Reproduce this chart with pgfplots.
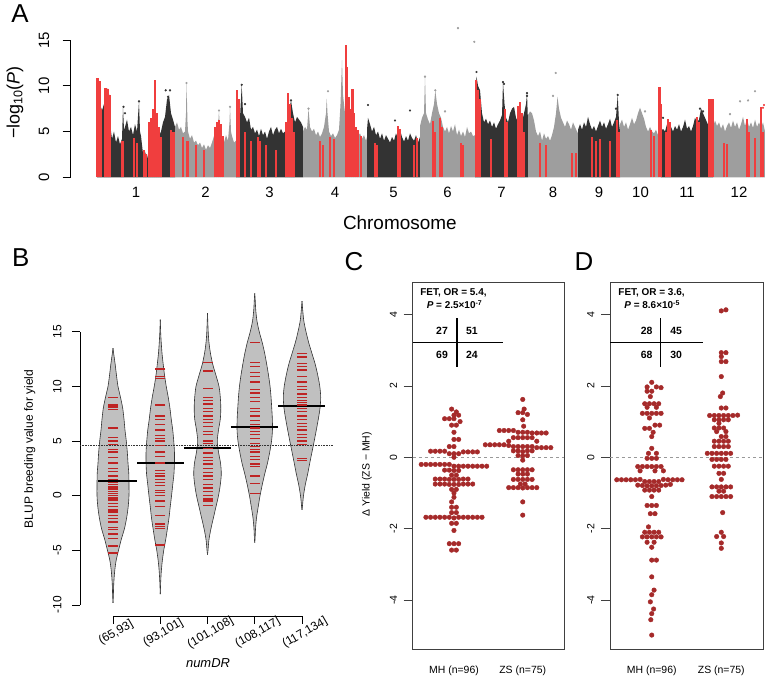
\documentclass[border=0pt]{standalone}
\usepackage{fontspec}
\setmainfont{Liberation Sans}
\usepackage{pgfplots}
\pgfplotsset{compat=1.18}
\usepackage{pgfplotstable}

\definecolor{mred}{RGB}{240,62,62}
\definecolor{mblack}{RGB}{51,51,51}
\definecolor{mgrey}{RGB}{158,158,158}
\definecolor{dotred}{RGB}{165,42,42}
\definecolor{rugred}{RGB}{190,35,35}
\definecolor{violin}{RGB}{192,192,192}

\newcommand\fs[1]{\fontsize{#1}{#1}\selectfont}

\pgfplotsset{every axis/.append style={
  /pgf/number format/assume math mode=true,
  scale only axis, anchor=south west, clip=false, tick align=outside}}

% violin outlines: y, half width in px
\pgfplotstableread[row sep=\\]{
y w\\ -9.8 0\\ -9 0.4\\ -8 0.8\\ -7 1.6\\ -6 3\\ -5 5.5\\ -4 8.3\\ -3 11.5\\ -2 13.7\\ -1 15.2\\ 0 16\\ 1 16\\ 2 15.8\\ 3 15\\ 4 14.3\\ 5 13.3\\ 6 12\\ 7 11\\ 8 9.7\\ 9 7.5\\ 10 5\\ 11 3.5\\ 12 2.2\\ 13 0.7\\ 13.5 0\\
}\vA
\pgfplotstableread[row sep=\\]{
y w\\ -9 0\\ -8 0.4\\ -7 1\\ -6 2\\ -5 3.5\\ -4 5.5\\ -3 7.2\\ -2 8.8\\ -1 10\\ 0 11.3\\ 1 12.5\\ 2 13.7\\ 3 14.2\\ 4 14.2\\ 5 13.5\\ 6 12.5\\ 7 11\\ 8 9.7\\ 9 8\\ 10 6\\ 11 4.3\\ 12 3\\ 13 1.8\\ 14 1\\ 15 0.4\\ 16.1 0\\
}\vB
\pgfplotstableread[row sep=\\]{
y w\\ -5.4 0\\ -5 0.5\\ -4 1.5\\ -3 3.5\\ -2 6\\ -1 8.5\\ 0 11\\ 1 12.8\\ 2 13.8\\ 3 13\\ 4 11\\ 5 9.8\\ 6 11\\ 7 12.8\\ 8 13.3\\ 9 12.8\\ 10 11.5\\ 11 8.5\\ 12 5.3\\ 13 3\\ 14 1.5\\ 15 0.7\\ 16.7 0\\
}\vC
\pgfplotstableread[row sep=\\]{
y w\\ -4.3 0\\ -4 0.3\\ -3 0.8\\ -2 1.8\\ -1 3.5\\ 0 5.3\\ 1 7.5\\ 2 10\\ 3 12.8\\ 4 15\\ 5 16.8\\ 6 17.7\\ 7 17.6\\ 8 17\\ 9 16.3\\ 10 15.3\\ 11 13.8\\ 12 12\\ 13 10\\ 14 7.5\\ 15 4.5\\ 16 2.2\\ 17 1\\ 18 0.4\\ 18.5 0\\
}\vD
\pgfplotstableread[row sep=\\]{
y w\\ -1.3 0\\ -1 0.4\\ 0 1.5\\ 1 3.3\\ 2 5.7\\ 3 7.8\\ 4 10\\ 5 12.2\\ 6 14.3\\ 7 16.3\\ 8 18\\ 9 18.7\\ 10 17.8\\ 11 15.8\\ 12 13.3\\ 13 10\\ 14 6.7\\ 15 4\\ 16 1.8\\ 17 0.7\\ 17.8 0\\
}\vE

\begin{document}
\begin{tikzpicture}[x=1bp,y=1bp]
\useasboundingbox (0,0) rectangle (765,676);

%% ---------------- A: Manhattan plot ----------------
\begin{axis}[at={(70.7bp,495.95bp)}, width=694.3bp, height=153.75bp,
  xmin=70.7, xmax=765, ymin=-0.3, ymax=16.5,
  axis x line*=bottom, axis y line*=left, axis line style={draw=none},
  ytick={0,5,10,15},
  xtick={136,205.5,269.5,335,393.5,447.5,501.5,553,599,640.5,687,739},
  xticklabels={1,2,3,4,5,6,7,8,9,10,11,12},
  xtick style={draw=none}, ytick style={black,line width=0.8bp},
  major tick length=8bp,
  tick label style={font=\fs{15}},
  yticklabel style={rotate=90,anchor=south}, yticklabel shift=10bp,
  xticklabel shift=-4bp,
  xlabel={Chromosome}, ylabel={−log\textsubscript{10}(\textit{P})},
  xlabel style={font=\fs{19},at={(axis description cs:0.474,-0.279)},anchor=center},
  ylabel style={font=\fs{18},at={(axis description cs:-0.0802,0.504)},anchor=center}]
\draw[line width=0.8bp] (axis cs:70.7,0) -- (axis cs:70.7,15);
% chromosome 1
\addplot[fill=mblack,draw=none] coordinates {(97,0)(97,10.5)(99,9.6)(100,8)(102,7.3)(104,8.0)(106,9.5)(108,9.7)(110,8.5)(111,5)(112,4.2)(114,5.0)(116,3.8)(118,4.5)(120,3.6)(122,4.2)(123,7.7)(124,5.2)(125,5.5)(127,6.3)(129,5.0)(131,5.5)(133,4.6)(135,5.8)(137,5.0)(139,8.3)(140,5)(141,4.5)(143,2.6)(145,2.8)(147,2.0)(149,3.0)(151,3.5)(153,3.0)(155,4.0)(157,3.5)(159,4.5)(161,5.0)(163,6.0)(165,6.6)(167,8.5)(169,9.0)(171,7.0)(173,6.3)(175,5.5)(175,0)};
% chromosome 2
\addplot[fill=mgrey,draw=none] coordinates {(175,0)(175,5.5)(177,6.0)(179,5.2)(181,5.5)(183,4.8)(185,5.0)(186,7)(186.5,10.3)(187.5,6)(188,5.0)(190,4.2)(192,4.6)(194,3.8)(196,4.0)(198,3.5)(200,3.8)(202,3.2)(204,3.6)(206,3.0)(208,3.5)(210,3.2)(212,3.8)(214,4.5)(216,5.0)(218,5.5)(219,7.3)(220,4.8)(222,4.2)(224,3.8)(226,4.6)(228,4.0)(229.5,6)(230,7.7)(231,5)(232,4.5)(234,3.8)(236,4.0)(236,0)};
% chromosome 3
\addplot[fill=mblack,draw=none] coordinates {(236,0)(236,7.5)(238,8.0)(240,6.5)(241.7,10.1)(243,7.0)(245,6.6)(247,6.0)(249,6.5)(251,5.2)(253,5.5)(255,4.8)(257,5.2)(259,4.5)(261,5.3)(263,4.6)(265,5.0)(267,4.2)(269,5.0)(271,5.5)(273,4.6)(275,5.2)(277,5.5)(279,4.8)(281,5.3)(283,4.8)(285,5.0)(287,6.0)(289,7.2)(291,8.4)(293,7.0)(295,6.0)(297,6.6)(299,6.3)(301,6.0)(303,5.5)(303,0)};
% chromosome 4
\addplot[fill=mgrey,draw=none] coordinates {(303,0)(303,5.0)(305,5.5)(307,5.2)(308.5,7.5)(310,5.5)(312,5.0)(314,5.3)(316,4.6)(318,5.0)(320,4.4)(322,4.8)(324,5.5)(326,7)(326.7,8.6)(327.5,7)(329,5.0)(331,4.5)(333,4.8)(335,4.3)(337,4.6)(339,5.2)(340.5,8)(342,12.8)(343,9)(344,8.0)(346,6.0)(348,5.5)(350,5.0)(352,5.0)(354,4.6)(356,4.0)(358,4.5)(360,4.8)(362,4.2)(364,4.6)(366,4.0)(367,4.4)(367,0)};
% chromosome 5
\addplot[fill=mblack,draw=none] coordinates {(367,0)(367,5.2)(368,6.5)(370,5.8)(372,5.0)(374,5.5)(376,4.6)(378,5.0)(380,4.2)(382,4.8)(384,4.0)(386,4.6)(388,4.2)(390,3.8)(392,4.4)(394,4.0)(396,4.8)(398,4.2)(400,5.2)(402,4.4)(404,3.9)(406,4.5)(408,4.0)(410,4.8)(412,4.3)(414,4.0)(416,4.6)(418,3.8)(420,4.4)(420,0)};
% chromosome 6
\addplot[fill=mgrey,draw=none] coordinates {(420,0)(420,5.6)(422,6.5)(424,7.0)(425,11.0)(426,7.0)(428,6.3)(430,5.8)(432,7.0)(434,8.0)(435.3,9.5)(437,8.0)(439,7.0)(441,6.5)(443,5.5)(445,5.0)(447,5.5)(449,4.8)(451,5.6)(453,5.0)(455,5.8)(457,4.6)(459,5.2)(461,4.5)(463,5.0)(465,4.4)(467,5.5)(469,4.8)(471,5.0)(473,4.5)(475,4.6)(475,0)};
% chromosome 7
\addplot[fill=mblack,draw=none] coordinates {(475,0)(475,9.0)(476.5,11.0)(478,10.0)(480,9.5)(482,7.0)(484,6.0)(486,6.4)(488,5.8)(490,6.2)(492,5.5)(494,6.0)(496,5.3)(498,5.8)(500,6.2)(502,6.8)(503,10.4)(504.5,8.0)(506,6.5)(508,6.0)(510,7.0)(512,7.5)(514,7.7)(516,6.5)(518,6.0)(520,5.5)(522,6.0)(524,7.0)(526,8)(527,9.2)(528,6.0)(528,0)};
% chromosome 8
\addplot[fill=mgrey,draw=none] coordinates {(528,0)(528,6.8)(530,7.2)(532,7.0)(534,6.2)(536,5.0)(538,4.5)(540,5.0)(542,4.0)(544,4.8)(546,4.2)(548,4.5)(550,4.0)(552,4.6)(554,5.5)(556,7.0)(557.5,8.8)(559,7.5)(561,6.5)(563,6.0)(565,5.5)(567,6.2)(569,5.8)(571,5.2)(573,6.0)(575,5.5)(577,5.0)(578,4.8)(578,0)};
% chromosome 9
\addplot[fill=mblack,draw=none] coordinates {(578,0)(578,5.2)(580,5.8)(582,5.2)(584,6.0)(586,5.5)(588,6.6)(590,5.8)(592,5.2)(594,5.6)(596,5.0)(598,5.6)(600,6.2)(602,5.5)(604,6.0)(606,5.3)(608,5.8)(610,6.4)(612,5.5)(614,6.0)(616,6.6)(617.7,9.0)(619,6.0)(620,5.0)(620,0)};
% chromosome 10
\addplot[fill=mgrey,draw=none] coordinates {(620,0)(620,5.8)(622,6.3)(624,5.5)(626,6.0)(628,5.2)(630,5.8)(632,6.5)(634,5.8)(636,6.2)(638,7.0)(640,7.6)(642,7.0)(644,6.4)(646,5.5)(648,5.0)(650,5.5)(652,5.0)(654,4.8)(656,5.2)(658,4.6)(660,4.5)(661,4.4)(661,0)};
% chromosome 11
\addplot[fill=mblack,draw=none] coordinates {(661,0)(661,5.0)(663,5.3)(665,5.0)(667,5.8)(669,5.2)(671,5.5)(673,5.0)(675,5.6)(677,5.2)(679,5.8)(681,5.0)(683,5.5)(685,6.3)(687,5.3)(689,5.6)(691,5.0)(693,5.6)(695,6.5)(697,6.0)(699,6.3)(701,7.5)(703,7.0)(705,6.5)(707,6.0)(709,5.5)(711,5.0)(713,5.0)(713,0)};
% chromosome 12
\addplot[fill=mgrey,draw=none] coordinates {(713,0)(713,5.5)(715,6.2)(717,5.6)(719,6.0)(721,5.3)(723,5.8)(725,5.0)(727,5.6)(729,6.0)(731,5.4)(733,6.2)(735,5.5)(737,6.0)(739,5.2)(741,5.8)(743,6.6)(745,5.6)(747,6.4)(749,5.5)(751,6.0)(753,5.4)(755,6.3)(757,5.5)(759,6.0)(761,5.4)(763,6.0)(765,5.0)(765,0)};
% highlighted (red) markers
\addplot[ycomb,draw=mred,line width=2.4bp] coordinates {
(97.5,10.9)(99.3,10.5)(101,7.5)(105.5,9.8)(107.5,9.6)(109.5,9.0)(122.5,4.0)(134,4.3)(137,3.8)(144,3.0)(146,2.5)(149,6.0)(151,6.5)(153,7.5)(155,10.6)(157,7.0)(159,5.5)(161,4.4)(171,5.2)(173.5,5.0)
(183,4.4)(187.5,4.0)(196,3.5)(204,3.0)(215,5.5)(217,6.0)(219,6.3)(221,5.8)(223,4.5)
(237,9.5)(239,8.5)(245,5.0)(251,4.0)(258,4.4)(260,4.0)(266,3.5)(276,3.0)(286,6.0)(288,9.2)(290,8.0)(292,6.5)(294,5.0)
(320,4.0)(323,3.5)(330,4.4)(334,4.2)(345.7,14.5)(347,12)(348.5,8.8)(350,7.5)(352.3,9.7)(354,7)(356,5.5)(358,5.2)(361,4.5)
(375,3.8)(377,3.5)(398,5.6)(400,5.3)(414,3.5)(416.7,4.3)
(433,6.2)(434.5,5.0)(440,6.5)(442,5.5)(461,3.8)(463,3.5)
(476,10.6)(478,9.5)(480,8.5)(491,4.2)(505,7.5)(507,6.0)(518,7.8)(520,8.2)(522,7.0)(524,5.0)
(540,3.8)(546,3.5)(572,2.6)(576,2.6)
(592,4.4)(596,4.0)(600,4.2)(610,4.0)(617,6.3)(619,5.0)
(651,5.2)(654,4.5)(659.5,9.9)(661,8)
(666,5.0)(668,6.4)(670,6.0)(697,6.6)(699,6.0)(709,8.6)(711,8.6)(713,8.5)
(724,3.8)(727,3.6)(747,6.4)(749,5.0)(755,4.3)(761,7.7)(763,5)};
% scattered single markers
\addplot[only marks,mark=*,mark size=0.9bp,mblack] coordinates {(123.5,7.7)(139,8.3)(125,7.0)(165.7,9.5)(170,9.5)(168,8.8)(241.7,10.1)(245,8.0)(291,8.4)(368,7.9)(410,7.3)(395,6.2)(476.5,11.5)(503,10.4)(504,10.2)(527,9.2)(527,8.9)(617.7,9.0)(616,7.5)(700,7.5)(703,7.2)(663,6.5)};
\addplot[only marks,mark=*,mark size=0.9bp,mgrey] coordinates {(458,16.3)(474.3,14.8)(555.7,11.4)(425,11.0)(328,9.4)(308.5,7.5)(230,7.7)(219,7.3)(186.5,10.3)(435.3,9.5)(755,9.4)(748,8.4)(740,8.3)(730,6.9)(645,7.2)(553,8.9)(445,7.2)};
\addplot[only marks,mark=*,mark size=0.9bp,mred] coordinates {(764,7.9)(763,7.6)};
\end{axis}

%% ---------------- B: violin plot ----------------
\begin{axis}[at={(80bp,60.1bp)}, width=253bp, height=327.9bp,
  xmin=0.3016, xmax=5.656, ymin=-11, ymax=19,
  axis x line*=bottom, axis y line*=left, axis line style={draw=none},
  xtick={1,2,3,4,5}, ytick={-10,-5,0,5,10,15},
  xticklabels={{(65,93]},{(93,101]},{(101,108]},{(108,117]},{(117,134]}},
  tick style={black,line width=0.7bp}, major tick length=8bp,
  tick label style={font=\fs{12}},
  yticklabel style={rotate=90,anchor=south}, yticklabel shift=7bp,
  xticklabel style={xshift=3bp,rotate=30,anchor=center}, xticklabel shift=9bp,
  xlabel={\textit{numDR}}, ylabel={BLUP breeding value for yield},
  xlabel style={font=\fs{13},at={(axis description cs:0.506,-0.1436)},anchor=center},
  ylabel style={font=\fs{12},at={(axis description cs:-0.198,0.509)},anchor=center}]
\draw[line width=0.7bp] (axis cs:1,-11) -- (axis cs:5,-11);
\draw[line width=0.7bp] (axis cs:0.3016,-10) -- (axis cs:0.3016,15);
% bean fills (two halves each)
\addplot[fill=violin,draw=none,smooth] table[x expr=1+\thisrow{w}/47.25,y=y]{\vA};
\addplot[fill=violin,draw=none,smooth] table[x expr=1-\thisrow{w}/47.25,y=y]{\vA};
\addplot[fill=violin,draw=none,smooth] table[x expr=2+\thisrow{w}/47.25,y=y]{\vB};
\addplot[fill=violin,draw=none,smooth] table[x expr=2-\thisrow{w}/47.25,y=y]{\vB};
\addplot[fill=violin,draw=none,smooth] table[x expr=3+\thisrow{w}/47.25,y=y]{\vC};
\addplot[fill=violin,draw=none,smooth] table[x expr=3-\thisrow{w}/47.25,y=y]{\vC};
\addplot[fill=violin,draw=none,smooth] table[x expr=4+\thisrow{w}/47.25,y=y]{\vD};
\addplot[fill=violin,draw=none,smooth] table[x expr=4-\thisrow{w}/47.25,y=y]{\vD};
\addplot[fill=violin,draw=none,smooth] table[x expr=5+\thisrow{w}/47.25,y=y]{\vE};
\addplot[fill=violin,draw=none,smooth] table[x expr=5-\thisrow{w}/47.25,y=y]{\vE};
\addplot[violin,line width=1.2bp] coordinates {(1,-9)(1,13)};
\addplot[violin,line width=1.2bp] coordinates {(2,-8)(2,15)};
\addplot[violin,line width=1.2bp] coordinates {(3,-5)(3,15)};
\addplot[violin,line width=1.2bp] coordinates {(4,-3)(4,17)};
\addplot[violin,line width=1.2bp] coordinates {(5,-0.5)(5,17)};
% bean outlines
\addplot[black!80,line width=0.6bp,smooth] table[x expr=1+\thisrow{w}/47.25,y=y]{\vA};
\addplot[black!80,line width=0.6bp,smooth] table[x expr=1-\thisrow{w}/47.25,y=y]{\vA};
\addplot[black!80,line width=0.6bp,smooth] table[x expr=2+\thisrow{w}/47.25,y=y]{\vB};
\addplot[black!80,line width=0.6bp,smooth] table[x expr=2-\thisrow{w}/47.25,y=y]{\vB};
\addplot[black!80,line width=0.6bp,smooth] table[x expr=3+\thisrow{w}/47.25,y=y]{\vC};
\addplot[black!80,line width=0.6bp,smooth] table[x expr=3-\thisrow{w}/47.25,y=y]{\vC};
\addplot[black!80,line width=0.6bp,smooth] table[x expr=4+\thisrow{w}/47.25,y=y]{\vD};
\addplot[black!80,line width=0.6bp,smooth] table[x expr=4-\thisrow{w}/47.25,y=y]{\vD};
\addplot[black!80,line width=0.6bp,smooth] table[x expr=5+\thisrow{w}/47.25,y=y]{\vE};
\addplot[black!80,line width=0.6bp,smooth] table[x expr=5-\thisrow{w}/47.25,y=y]{\vE};
% overall mean
\addplot[black!80,densely dotted,line width=0.6bp] coordinates {(0.3016,4.57)(5.656,4.57)};
% individual lines (rug)
\addplot[rugred,only marks,mark=-,mark size=5bp,mark options={draw=rugred,line width=1.3bp}] coordinates {
(1,9.0)(1,8.3)(1,8.1)(1,7.9)(1,6.2)(1,5.3)(1,5.0)(1,4.7)(1,4.2)(1,4.0)(1,3.5)(1,3.0)(1,2.5)(1,2.2)(1,1.8)(1,1.5)(1,1.2)(1,1.0)(1,0.8)(1,0.6)(1,0.4)(1,0.2)(1,0.0)(1,-0.2)(1,-0.4)(1,-0.7)(1,-1.0)(1,-1.3)(1,-1.5)(1,-1.8)(1,-2.1)(1,-2.4)(1,-2.9)(1,-3.1)(1,-3.5)(1,-3.9)(1,-4.6)(1,-5.2)(1,-5.3)
(2,11.6)(2,10.9)(2,10.7)(2,8.3)(2,7.3)(2,7.0)(2,6.5)(2,6.0)(2,5.5)(2,5.2)(2,5.0)(2,4.6)(2,4.0)(2,3.6)(2,3.0)(2,2.3)(2,2.0)(2,1.8)(2,1.5)(2,1.2)(2,0.9)(2,0.5)(2,0.3)(2,0.0)(2,-0.5)(2,-1.0)(2,-1.8)(2,-2.6)(2,-2.8)(2,-3.0)(2,-4.5)
(3,12.2)(3,11.4)(3,9.8)(3,9.0)(3,8.7)(3,8.4)(3,8.0)(3,7.7)(3,7.3)(3,7.0)(3,6.7)(3,6.3)(3,5.9)(3,5.6)(3,5.0)(3,4.8)(3,4.3)(3,3.9)(3,3.5)(3,3.2)(3,2.9)(3,2.5)(3,2.1)(3,1.8)(3,1.5)(3,1.0)(3,0.7)(3,0.4)(3,0.0)(3,-0.3)(3,-0.5)(3,-0.9)
(4,14.0)(4,12.2)(4,11.8)(4,11.3)(4,10.9)(4,10.4)(4,9.7)(4,9.4)(4,9.0)(4,8.6)(4,8.0)(4,7.7)(4,7.3)(4,6.9)(4,6.5)(4,6.2)(4,5.9)(4,5.6)(4,5.2)(4,4.8)(4,4.5)(4,4.2)(4,4.0)(4,3.6)(4,3.3)(4,2.9)(4,2.7)(4,1.8)(4,1.1)(4,0.2)
(5,13.0)(5,12.7)(5,12.1)(5,11.8)(5,11.5)(5,10.9)(5,10.4)(5,10.0)(5,9.7)(5,9.3)(5,9.0)(5,8.7)(5,8.5)(5,8.3)(5,8.0)(5,7.7)(5,7.3)(5,7.0)(5,6.6)(5,6.3)(5,6.0)(5,5.6)(5,5.3)(5,5.0)(5,4.7)(5,3.4)(5,3.2)};
% group means
\addplot[black,line width=1.8bp] coordinates {(0.683,1.37)(1.508,1.37)};
\addplot[black,line width=1.8bp] coordinates {(1.508,3.02)(2.503,3.02)};
\addplot[black,line width=1.8bp] coordinates {(2.503,4.36)(3.497,4.36)};
\addplot[black,line width=1.8bp] coordinates {(3.497,6.25)(4.492,6.25)};
\addplot[black,line width=1.8bp] coordinates {(4.492,8.17)(5.487,8.17)};
\end{axis}

%% ---------------- C: beeswarm ----------------
\begin{axis}[at={(412.7bp,27bp)}, width=151.3bp, height=366.3bp,
  xmin=0.4, xmax=2.6, ymin=-5.37, ymax=4.89,
  axis line style={black!75,line width=0.7bp},
  ytick pos=left, ytick={-4,-2,0,2,4}, xtick={1,2},
  xticklabels={MH (n=96),ZS (n=75)},
  xtick style={draw=none}, ytick style={black!75,line width=0.7bp},
  major tick length=9bp,
  tick label style={font=\fs{10.5}},
  yticklabel style={rotate=90,anchor=south}, yticklabel shift=3bp,
  xticklabel shift=4bp,
  ylabel={Δ Yield (ZS − MH)},
  ylabel style={font=\fs{10.5},at={(axis description cs:-0.302,0.477)},anchor=center}]
\addplot[black!40,dashed,line width=0.7bp] coordinates {(0.4,0)(2.6,0)};
\addplot[only marks,mark=*,mark size=2.3bp,dotred,mark options={draw=dotred,fill=dotred}] table[x expr=1+\thisrow{k}*0.068,y=v,row sep=\\]{
k v\\ -0.5 1.35\\ 0.5 1.27\\ 0 1.18\\ 1 1.18\\ -2 1.08\\ -1 1.08\\ 0 1.08\\ 1.3 1.0\\ -0.5 0.9\\ 0.5 0.9\\ 0 0.7\\ 0 0.5\\ 1 0.5\\ -1 0.3\\ 0 0.3\\
-5 0.17\\ -4 0.17\\ -3 0.17\\ -2 0.17\\ -1 0.1\\ 0 0.1\\ 1 0.1\\ 2 0.15\\ 3 0.15\\ 4 0.15\\ 5 0.15\\ 0 0.0\\
-7 -0.2\\ -6 -0.2\\ -5 -0.2\\ -4 -0.2\\ -3 -0.2\\ -2 -0.2\\ -1 -0.2\\ 0 -0.25\\ 1 -0.25\\ 2 -0.25\\ 3 -0.25\\ 4 -0.25\\ 5 -0.25\\ 6 -0.25\\ 7 -0.25\\
-2 -0.36\\ -1 -0.36\\ 0 -0.37\\ 1 -0.37\\ -0.5 -0.5\\ 0.5 -0.5\\
-4 -0.61\\ -3 -0.61\\ -2 -0.61\\ -1 -0.62\\ 0 -0.62\\ 1 -0.62\\ 2 -0.61\\ 3 -0.61\\
-4 -0.75\\ -3 -0.75\\ -2 -0.75\\ -1 -0.76\\ 0 -0.76\\ 1 -0.76\\ 2 -0.75\\ 3 -0.75\\ 4 -0.75\\
-0.5 -0.9\\ 0.5 -0.9\\ 0 -1.0\\ 0 -1.12\\ -0.5 -1.25\\ -0.5 -1.4\\ 0.5 -1.4\\ -0.5 -1.55\\ 0.5 -1.55\\
-6 -1.68\\ -5 -1.68\\ -4 -1.68\\ -3 -1.68\\ -2 -1.68\\ -1 -1.68\\ 0 -1.7\\ 1 -1.68\\ 2 -1.68\\ 3 -1.68\\ 4 -1.68\\ 5 -1.68\\ 6 -1.68\\
-0.5 -1.85\\ 0.5 -1.85\\ 0 -2.05\\ -1 -2.42\\ 0 -2.42\\ 1 -2.42\\ -0.5 -2.6\\ 0.5 -2.6\\
};
\addplot[only marks,mark=*,mark size=2.3bp,dotred,mark options={draw=dotred,fill=dotred}] table[x expr=2+\thisrow{k}*0.068,y=v,row sep=\\]{
k v\\ 0 1.62\\ 0.3 1.35\\ -1 1.25\\ 0 1.25\\ 1 1.2\\ 0 1.05\\ 0.2 0.87\\
-5 0.75\\ -4 0.75\\ -3 0.75\\ -2 0.75\\ -1 0.7\\ 0 0.7\\ 1 0.7\\ 2 0.68\\ 3 0.68\\ 4 0.68\\ 5 0.68\\
-2 0.55\\ -1 0.55\\ 0 0.55\\ 1 0.55\\ 2 0.55\\ -3 0.45\\ 3 0.45\\
-8 0.35\\ -7 0.35\\ -6 0.35\\ -5 0.35\\ -4 0.35\\ -3 0.33\\ -2 0.3\\ -1 0.3\\ 0 0.3\\ 1 0.3\\ 2 0.3\\ 3 0.27\\ 4 0.27\\ 5 0.27\\ 6 0.27\\
-2 0.18\\ -1 0.18\\ 0 0.16\\ 1 0.18\\ 2 0.18\\ -1 0.05\\ 0 0.04\\ 1 0.05\\ 0 -0.08\\
-2 -0.35\\ -1 -0.35\\ 0 -0.35\\ 1 -0.35\\ 2 -0.35\\ -1 -0.47\\ 0 -0.47\\ 1 -0.47\\
-2 -0.62\\ -1 -0.62\\ 0 -0.62\\ 1 -0.62\\ 2 -0.62\\ -0.5 -0.75\\ 0.5 -0.75\\
-3 -0.85\\ -2 -0.85\\ -1 -0.85\\ 0 -0.86\\ 1 -0.85\\ 2 -0.85\\ 3 -0.85\\ 0 -1.25\\ 0 -1.62\\
};
\node[font=\bfseries\fs{10}] at (axis cs:0.993,4.60) {FET, OR = 5.4,};
\node[font=\bfseries\fs{10}] at (axis cs:1.008,4.27) {\textit{P} = 2.5×10\textsuperscript{-7}};
\draw[line width=1.1bp] (axis cs:1.044,3.90) -- (axis cs:1.044,2.53);
\draw[line width=1.1bp] (axis cs:0.4,3.22) -- (axis cs:1.709,3.22);
\node[font=\bfseries\fs{10.5}] at (axis cs:0.826,3.546) {27};
\node[font=\bfseries\fs{10.5}] at (axis cs:1.262,3.546) {51};
\node[font=\bfseries\fs{10.5}] at (axis cs:0.826,2.866) {69};
\node[font=\bfseries\fs{10.5}] at (axis cs:1.262,2.866) {24};
\end{axis}

%% ---------------- D: beeswarm ----------------
\begin{axis}[at={(610bp,27bp)}, width=153bp, height=366.3bp,
  xmin=0.4, xmax=2.6, ymin=-5.37, ymax=4.89,
  axis line style={black!75,line width=0.7bp},
  ytick pos=left, ytick={-4,-2,0,2,4}, xtick={1,2},
  xticklabels={MH (n=96),ZS (n=75)},
  xtick style={draw=none}, ytick style={black!75,line width=0.7bp},
  major tick length=9bp,
  tick label style={font=\fs{10.5}},
  yticklabel style={rotate=90,anchor=south}, yticklabel shift=3bp,
  xticklabel shift=4bp]
\addplot[black!40,dashed,line width=0.7bp] coordinates {(0.4,0)(2.6,0)};
\addplot[only marks,mark=*,mark size=2.3bp,dotred,mark options={draw=dotred,fill=dotred}] table[x expr=1+\thisrow{k}*0.067,y=v,row sep=\\]{
k v\\ 0 2.1\\ -1 1.97\\ 1 1.97\\ 2 1.95\\ -1 1.85\\ 0 1.85\\ -0.3 1.7\\ -1.5 1.5\\ -0.5 1.5\\ 0.5 1.5\\ 1.5 1.5\\ -1 1.4\\ 1 1.4\\
-2 1.23\\ -1 1.23\\ 0 1.23\\ 1 1.23\\ 2 1.23\\ -0.5 1.1\\ 0.7 0.9\\ 1.7 0.9\\ -1.5 0.81\\ -0.5 0.81\\ 0.3 0.7\\ 0 0.58\\ 0 0.25\\ -0.7 0.11\\ 1 0.11\\
-1 -0.03\\ 0 -0.03\\ 1 -0.03\\ -3 -0.26\\ -2 -0.26\\ -1 -0.26\\ 0 -0.26\\ 1 -0.26\\ 2 -0.26\\ -2.5 -0.38\\ 0.7 -0.38\\ 2.5 -0.38\\
-7.5 -0.63\\ -6.5 -0.63\\ -5.5 -0.63\\ -4.5 -0.63\\ -3.5 -0.63\\ -2.5 -0.62\\ 2.5 -0.62\\ 3.5 -0.63\\ 4.5 -0.63\\ 5.5 -0.63\\ 6.5 -0.63\\
-1.5 -0.68\\ -0.5 -0.68\\ 0.5 -0.68\\ 1.5 -0.68\\ -3 -0.78\\ -2 -0.79\\ -1 -0.8\\ 0 -0.8\\ 1 -0.8\\ 2 -0.79\\ 3 -0.78\\ 4 -0.76\\
-1.5 -0.92\\ -0.5 -0.92\\ 0.5 -0.92\\ 1.5 -0.92\\ 0 -1.1\\ -1 -1.35\\ 0 -1.35\\ 1 -1.35\\ -0.3 -1.58\\ 0.7 -1.58\\ -0.7 -1.95\\
-1.5 -2.1\\ -0.5 -2.1\\ 0.5 -2.1\\ 1.5 -2.1\\ -2 -2.23\\ -1 -2.23\\ 0 -2.23\\ 1 -2.23\\ 2 -2.23\\ -1 -2.38\\ 0.5 -2.38\\ 0 -2.52\\
0 -2.88\\ 1 -2.88\\ 0 -3.35\\ 0.5 -3.72\\ 0 -3.85\\ -0.3 -4.05\\ 0.4 -4.25\\ 0 -4.38\\ -0.2 -4.55\\ 0 -4.98\\
};
\addplot[only marks,mark=*,mark size=2.3bp,dotred,mark options={draw=dotred,fill=dotred}] table[x expr=2+\thisrow{k}*0.067,y=v,row sep=\\]{
k v\\ 0 4.1\\ 1 4.13\\ 0 2.93\\ 1 2.93\\ 0 2.82\\ 0 2.68\\ 1 2.68\\ 0 2.26\\ 0.3 1.8\\ -0.2 1.7\\ 0 1.38\\ 1 1.38\\
-2.5 1.17\\ -1.5 1.17\\ -0.5 1.17\\ 0.5 1.17\\ 1.5 1.17\\ 2.5 1.17\\ 3.5 1.18\\ -1.5 1.05\\ -0.5 1.05\\ 0.5 1.05\\ 1.5 1.05\\ -0.5 0.95\\
-1.5 0.82\\ -0.5 0.82\\ 0.5 0.82\\ -1 0.72\\ 1 0.72\\ 0 0.58\\ 1 0.58\\ -1.5 0.45\\ -0.5 0.45\\ 0.5 0.45\\ 1.5 0.45\\ -1.5 0.3\\ -0.5 0.3\\ 0.5 0.3\\ 1.5 0.3\\
-3 0.11\\ -2 0.11\\ -1 0.11\\ 0 0.11\\ 1 0.11\\ 2 0.11\\ -2 -0.06\\ -1 -0.06\\ 0 -0.06\\ 1 -0.06\\ -1.5 -0.25\\ -0.5 -0.25\\ 0.5 -0.25\\ 1.5 -0.25\\
-0.5 -0.45\\ 0.5 -0.45\\ 0 -0.62\\ -2 -0.83\\ -1 -0.83\\ 0 -0.83\\ 1 -0.83\\ 2 -0.83\\ -0.5 -0.95\\ 0.5 -0.95\\ -2 -1.1\\ -1 -1.1\\ 0 -1.1\\ 1 -1.1\\ 2 -1.1\\
0.3 -1.55\\ 0 -2.1\\ -1 -2.22\\ 0.5 -2.22\\ 0 -2.4\\ 0 -2.55\\
};
\node[font=\bfseries\fs{10}] at (axis cs:0.997,4.60) {FET, OR = 3.6,};
\node[font=\bfseries\fs{10}] at (axis cs:1.006,4.27) {\textit{P} = 8.6×10\textsuperscript{-5}};
\draw[line width=1.1bp] (axis cs:1.129,3.90) -- (axis cs:1.129,2.53);
\draw[line width=1.1bp] (axis cs:0.4,3.22) -- (axis cs:1.733,3.22);
\node[font=\bfseries\fs{10.5}] at (axis cs:0.928,3.546) {28};
\node[font=\bfseries\fs{10.5}] at (axis cs:1.352,3.546) {45};
\node[font=\bfseries\fs{10.5}] at (axis cs:0.928,2.866) {68};
\node[font=\bfseries\fs{10.5}] at (axis cs:1.352,2.866) {30};
\end{axis}

% panel letters
\node[font=\fs{26}] at (20,662) {A};
\node[font=\fs{26}] at (20.8,418) {B};
\node[font=\fs{26}] at (354,414.3) {C};
\node[font=\fs{26}] at (584,414) {D};
\end{tikzpicture}
\end{document}
